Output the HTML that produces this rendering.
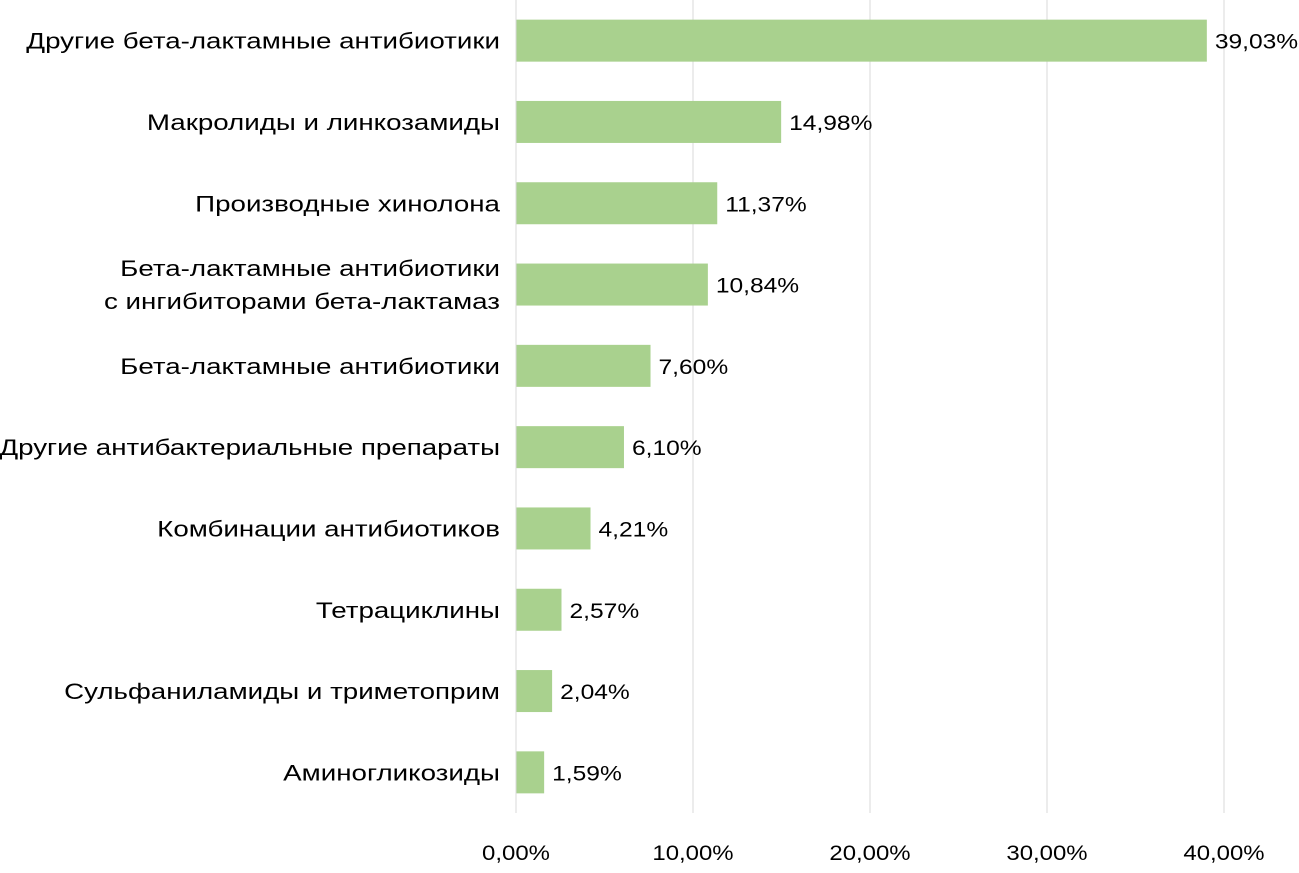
<!DOCTYPE html>
<html><head><meta charset="utf-8"><style>
html,body{margin:0;padding:0;background:#fff;}
svg text{font-family:"Liberation Sans","DejaVu Sans",sans-serif;fill:#000;}
</style></head><body>
<svg id="chart" width="1299" height="868" xmlns="http://www.w3.org/2000/svg"></svg>
<script>
const categories=["Другие бета-лактамные антибиотики","Макролиды и линкозамиды","Производные хинолона","Бета-лактамные антибиотики|с ингибиторами бета-лактамаз","Бета-лактамные антибиотики","Другие антибактериальные препараты","Комбинации антибиотиков","Тетрациклины","Сульфаниламиды и триметоприм","Аминогликозиды"];
const values=[39.03,14.98,11.37,10.84,7.60,6.10,4.21,2.57,2.04,1.59];
const valueLabels=["39,03%","14,98%","11,37%","10,84%","7,60%","6,10%","4,21%","2,57%","2,04%","1,59%"];
const ticks=[0,10,20,30,40];
const tickLabels=["0,00%","10,00%","20,00%","30,00%","40,00%"];
(function(){
const svg=document.getElementById('chart');
const NS="http://www.w3.org/2000/svg";
const x0=516,pxPer=17.7,plotTop=0,plotBottom=813;
const band=(plotBottom-plotTop)/categories.length;
const xs=v=>x0+v*pxPer;
const yc=i=>plotTop+band*(i+0.5);
function mk(t,a){const e=document.createElementNS(NS,t);for(const k in a)e.setAttribute(k,a[k]);svg.appendChild(e);return e;}
function stretch(el,f){try{const w=el.getComputedTextLength();if(w>0){el.setAttribute('textLength',(w*f).toFixed(1));el.setAttribute('lengthAdjust','spacingAndGlyphs');}}catch(e){}}
ticks.forEach((t,i)=>{
 const g=mk('line',{x1:xs(t),x2:xs(t),y1:plotTop,y2:plotBottom,stroke:'#d9d9d9','stroke-width':1});
 
 
 const l=mk('text',{x:xs(t),y:860,'text-anchor':'middle','font-size':21});
 l.textContent=tickLabels[i];
 
 
 stretch(l,1.14);
});
categories.forEach((c,i)=>{
 const y=yc(i);
 const b=mk('rect',{x:x0,y:y-21,width:values[i]*pxPer,height:42,fill:'#a9d18e'});
 
 
 const v=mk('text',{x:xs(values[i])+8,y:y+8,'font-size':21});
 v.textContent=valueLabels[i];
 
 
 stretch(v,1.17);
 const parts=c.split('|');
 parts.forEach((p,j)=>{
  const t=mk('text',{x:500,y:y+8+(j-(parts.length-1)/2)*33,'text-anchor':'end','font-size':22});
  t.textContent=p;
  
  
  stretch(t,1.26);
 });
});
const ax=mk('line',{x1:x0,x2:x0,y1:plotTop,y2:plotBottom,stroke:'#d9d9d9','stroke-width':1});


})();
</script>
</body></html>
